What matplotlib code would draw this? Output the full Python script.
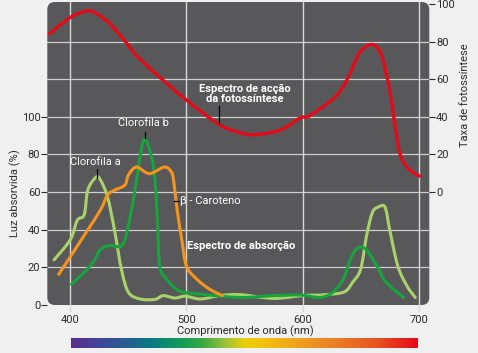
import numpy as np
import matplotlib
matplotlib.use("Agg")
import matplotlib.pyplot as plt
from matplotlib.patches import FancyBboxPatch, PathPatch
from matplotlib.path import Path
from matplotlib.colors import LinearSegmentedColormap

# ---- data ----
action_nm = [382, 400, 415, 423, 434, 448, 457, 477, 500, 528, 546, 559, 581, 598, 606,
             628, 639, 649, 660, 668, 675, 679, 684, 692, 701]
action_rate = [84, 92.8, 96.3, 94.7, 89.5, 79.5, 72.6, 61, 48.9, 36, 31.6, 30.5, 33, 39.5, 40.5,
               50.5, 60.5, 74, 78.4, 72.6, 54, 38, 20, 12, 8.4]

chla_nm = [386, 400, 406, 412, 415, 421, 425, 432, 438, 444, 450, 460, 473, 480, 490, 499,
           512, 529, 546, 575, 600, 620, 636, 643, 650, 655, 660, 665, 671, 675, 682, 690, 697]
chla_abs = [24, 34.7, 45, 48, 61, 67.2, 67.4, 57.5, 40, 19, 6.8, 3.2, 3, 5, 3.7, 4.7,
            3.2, 5, 5.5, 3.5, 5, 5.5, 7, 12, 19, 36.5, 49, 52, 52, 40, 20.7, 10, 4]

chlb_nm = [401, 413, 421, 426, 434, 443, 447, 451, 457, 460, 464, 470, 473, 475, 477, 483,
           494, 512, 546, 575, 598, 615, 626, 635, 641, 646, 651, 656, 664, 672, 687]
chlb_abs = [11, 18, 24, 29.5, 31.6, 31, 34.7, 45, 66, 78.6, 88.3, 78.6, 66, 45, 20.7, 13.7,
            7.5, 5.8, 4.0, 5, 5.3, 4, 6.7, 13.7, 24, 29.5, 30.7, 28.6, 20.7, 12, 4]

car_nm = [390, 400, 413, 426, 432, 438, 447, 450, 457, 468, 481, 487, 489, 492, 496, 500,
          509, 520, 531]
car_abs = [16.3, 25.6, 38, 50.5, 58.4, 61, 63.7, 69, 73.3, 69.8, 73.3, 70.7, 66, 50.5, 34.7,
           20.7, 13.7, 8.4, 5]

x_ticks = [400, 500, 600, 700]
left_ticks = [0, 20, 40, 60, 80, 100]
right_ticks = [0, 20, 40, 60, 80, 100]

# ---- style ----
BG = "#f0f0f0"
PLOT_BG = "#58585a"
TXT = "#2b2b2b"
plt.rcParams['font.family'] = ['Roboto', 'DejaVu Sans']


def smooth_path(xs, ys):
    """Catmull-Rom curve through the points, as cubic Bezier segments."""
    p = np.column_stack([xs, ys]).astype(float)
    n = len(p)
    verts = [p[0]]
    codes = [Path.MOVETO]
    for i in range(n - 1):
        p0 = p[i - 1] if i > 0 else p[i]
        p1, p2 = p[i], p[i + 1]
        p3 = p[i + 2] if i + 2 < n else p[i + 1]
        c1 = p1 + (p2 - p0) / 6.0
        c2 = p2 - (p3 - p1) / 6.0
        verts += [c1, c2, p2]
        codes += [Path.CURVE4] * 3
    return Path(verts, codes)


def draw_curve(axis, xs, ys, color, lw, z):
    patch = PathPatch(smooth_path(xs, ys), facecolor='none', edgecolor=color, lw=lw,
                      zorder=z, capstyle='round', joinstyle='round')
    axis.add_patch(patch)


fig = plt.figure(figsize=(4.78, 3.53), dpi=100, facecolor=BG)
W, H = 478.0, 353.0
L, R, T, B = 47.3, 429.3, 2.0, 305.0
ax = fig.add_axes([L / W, 1 - B / H, (R - L) / W, (B - T) / H])
ax.set_facecolor("none")
ax.set_xlim(380.2, 709.1)
ax.set_ylim(0, 161)

bg = FancyBboxPatch((0, 0), 1, 1, boxstyle="round,pad=0,rounding_size=0.02",
                    transform=ax.transAxes, facecolor=PLOT_BG, edgecolor="none",
                    zorder=0, clip_on=False, mutation_aspect=382 / 303)
ax.add_patch(bg)

for s in ax.spines.values():
    s.set_visible(False)

for yv in [20, 40, 60, 80, 100, 120, 140]:
    ax.axhline(yv, color="#cfcfcf", lw=0.9, zorder=1)
for xv in x_ticks:
    ax.plot([xv, xv], [-3, 161], color="#d8d8d8", lw=1.0, zorder=1, clip_on=False)

ax.set_xticks(x_ticks)
ax.set_yticks(left_ticks)
ax.tick_params(axis='x', length=0, pad=7, labelsize=8, colors=TXT)
ax.tick_params(axis='y', length=4, width=0.8, color=TXT, labelsize=8, labelcolor=TXT, pad=1)

# absorption curves
draw_curve(ax, chla_nm, chla_abs, "#a9d36a", 2.2, 3)
draw_curve(ax, chlb_nm, chlb_abs, "#16a53c", 2.2, 3)
draw_curve(ax, car_nm, car_abs, "#f7941d", 2.2, 4)

# right axis
ax2 = ax.twinx()
ax2.set_ylim(-60, 101)
for s in ax2.spines.values():
    s.set_visible(False)
ax2.set_yticks(right_ticks)
ax2.tick_params(axis='y', length=4, width=0.8, color=TXT, labelsize=8, labelcolor=TXT, pad=1)
draw_curve(ax2, action_nm, action_rate, "#e30b17", 2.4, 5)

# labels
fig.text(15 / W, 1 - 193 / H, "Luz absorvida (%)", rotation=90, ha='center', va='center',
         fontsize=8, color=TXT)
fig.text(465 / W, 1 - 95 / H, "Taxa de fotossíntese", rotation=90, ha='center', va='center',
         fontsize=8, color=TXT)
fig.text(245 / W, 1 - 331 / H, "Comprimento de onda (nm)", ha='center', va='center',
         fontsize=8, color=TXT)

# annotations
ax2.text(550, 52, "Espectro de acção\nda fotossíntese", ha='center', va='center',
         fontsize=8, color='white', fontweight='bold', linespacing=1.05, zorder=6)
ax2.plot([528, 528], [45.5, 36.5], color='black', lw=0.9, zorder=6)
ax.text(463, 96.5, "Clorofila b", ha='center', va='center', fontsize=8, color='white', zorder=6)
ax.plot([464.4, 464.4], [92, 88.5], color='black', lw=0.9, zorder=6)
ax.text(422, 76, "Clorofila a", ha='center', va='center', fontsize=8, color='white', zorder=6)
ax.plot([423, 423], [72, 67.5], color='black', lw=0.9, zorder=6)
ax.text(494.5, 55.5, "β - Caroteno", ha='left', va='center', fontsize=8, color='white', zorder=6)
ax.plot([489.5, 493.5], [55.5, 55.5], color='black', lw=0.9, zorder=6)
ax.text(547, 31.5, "Espectro de absorção", ha='center', va='center', fontsize=8,
        color='white', fontweight='bold', zorder=6)

# spectrum bar
cax = fig.add_axes([71 / W, 1 - 348 / H, (417.3 - 71) / W, 10 / H])
cmap = LinearSegmentedColormap.from_list("spec", [
    (0.0, "#5a2d8c"), (0.085, "#40479b"), (0.17, "#22628f"), (0.23, "#0b7a85"),
    (0.31, "#109a5a"), (0.38, "#3aa843"), (0.45, "#a4c43a"), (0.50, "#eacf0a"),
    (0.55, "#f3c30f"), (0.72, "#eb8c25"), (0.88, "#e85522"), (1.0, "#e20a17")])
cax.imshow(np.linspace(0, 1, 512)[None, :], aspect='auto', cmap=cmap, extent=[0, 1, 0, 1])
cax.axis('off')

fig.savefig("out.png", dpi=100, facecolor=BG)
